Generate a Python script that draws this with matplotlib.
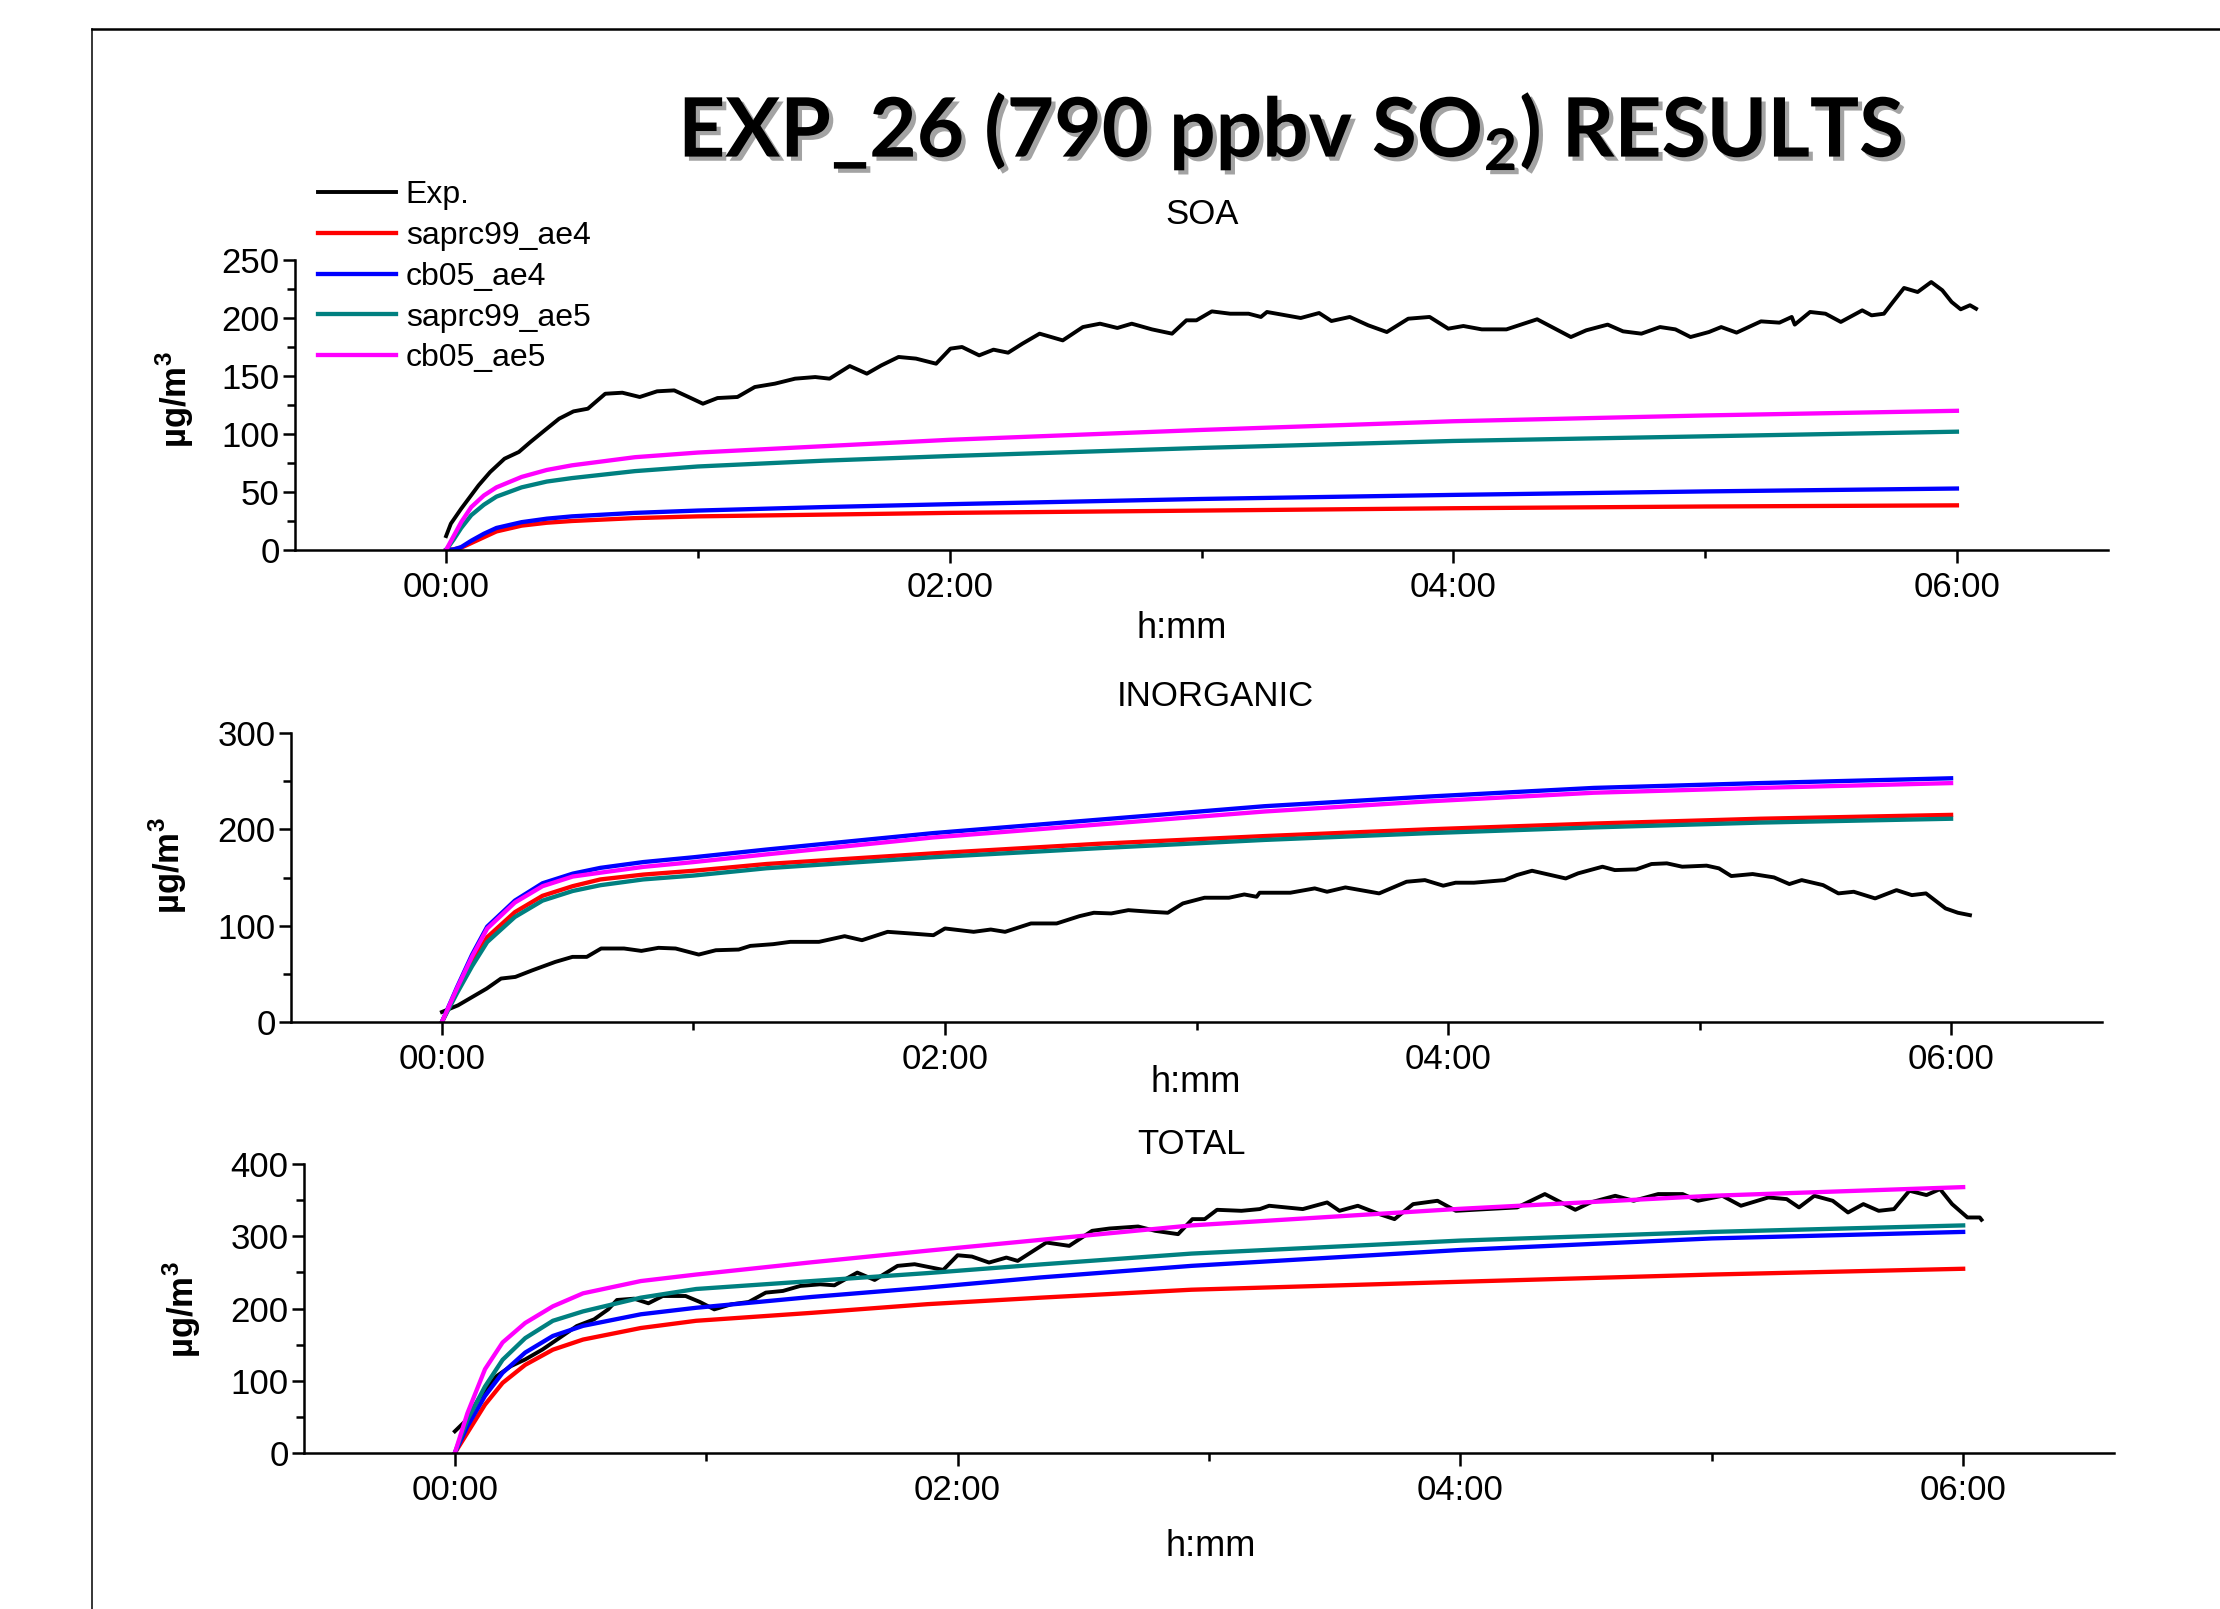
import matplotlib.pyplot as plt
import matplotlib.patheffects as pe
from matplotlib.lines import Line2D
from matplotlib.ticker import MultipleLocator, FixedLocator

plt.rcParams['font.family'] = ['Liberation Sans', 'DejaVu Sans']
plt.rcParams['mathtext.fontset'] = 'custom'
plt.rcParams['mathtext.rm'] = 'Liberation Sans'

# series names / colours
names = ["Exp.", "saprc99_ae4", "cb05_ae4", "saprc99_ae5", "cb05_ae5"]
colors = ["black", "#ff0000", "#0000ff", "#008080", "#ff00ff"]

# ---------------- SOA ----------------
soa_exp_t = [0, 0.019, 0.06, 0.129, 0.175, 0.232, 0.289, 0.335, 0.392, 0.449, 0.506, 0.563, 0.632, 0.70,
             0.769, 0.838, 0.906, 0.963, 1.02, 1.078, 1.157, 1.226, 1.306, 1.386, 1.466, 1.523, 1.603, 1.671,
             1.729, 1.797, 1.866, 1.946, 2.003, 2.049, 2.117, 2.174, 2.232, 2.289, 2.357, 2.449, 2.529, 2.597,
             2.666, 2.723, 2.803, 2.883, 2.94, 2.98, 3.041, 3.114, 3.187, 3.236, 3.26, 3.394, 3.467, 3.516,
             3.589, 3.662, 3.736, 3.821, 3.906, 3.98, 4.04, 4.113, 4.211, 4.333, 4.467, 4.528, 4.613, 4.674,
             4.747, 4.821, 4.882, 4.942, 5.015, 5.064, 5.125, 5.222, 5.295, 5.344, 5.356, 5.417, 5.478, 5.539,
             5.624, 5.661, 5.71, 5.746, 5.79, 5.844, 5.898, 5.942, 5.979, 6.015, 6.052, 6.076]
soa_exp = [12, 22.7, 35.6, 55.7, 67.2, 78.7, 84.5, 93.1, 103.2, 113.2, 119.5, 121.8, 134.7, 135.6, 131.9,
           136.8, 137.6, 131.9, 126.1, 131, 131.9, 140.5, 143.4, 147.7, 149.1, 147.7, 158.6, 152, 159.2, 166.4,
           165, 160.6, 173.6, 175, 167.8, 172.7, 170.1, 177.9, 186.5, 180.7, 192.2, 195.1, 191.4, 195.1, 190.2,
           186.5, 198, 198, 205.7, 203.7, 203.7, 200.9, 205.2, 200, 204.3, 197.4, 200.9, 193.7, 187.9, 199.4,
           200.9, 190.8, 193.1, 190.2, 190.2, 198.9, 183.6, 189.4, 194.3, 188.5, 186.5, 192.2, 190.2, 183.6,
           187.9, 192.2, 187.4, 197.1, 196, 200.9, 194.3, 205.2, 203.7, 196.6, 206.6, 202.3, 203.7, 213.8,
           225.9, 222.4, 231, 223.9, 213.8, 207.5, 211, 208]
soa_mod_t = [0, 0.03, 0.06, 0.1, 0.15, 0.2, 0.3, 0.4, 0.5, 0.75, 1.0, 1.5, 2.0, 3.0, 4.0, 5.0, 6.0]
soa_saprc99_ae4 = [0, 0.5, 2, 6, 11, 16, 21, 23.5, 25, 27.5, 29, 30.5, 32, 34, 36, 37.5, 38.5]
soa_cb05_ae4 = [0, 0.5, 2.5, 8, 14, 19, 24, 27, 29, 32, 34, 37, 39.5, 44, 47.5, 50.5, 53]
soa_saprc99_ae5 = [0, 9, 19, 30, 39, 46, 54, 59, 62, 68, 72, 77, 81, 88, 94, 98, 102]
soa_cb05_ae5 = [0, 12, 24, 37, 47, 54, 63, 69, 73, 80, 84, 89.5, 95, 103.5, 111, 116, 120]

# ---------------- INORGANIC ----------------
inorg_exp_t = [0, 0.064, 0.178, 0.235, 0.292, 0.36, 0.451, 0.519, 0.576, 0.633, 0.724, 0.793, 0.861, 0.929,
               1.021, 1.089, 1.18, 1.226, 1.317, 1.385, 1.499, 1.601, 1.67, 1.772, 1.863, 1.954, 2.0, 2.114,
               2.182, 2.239, 2.342, 2.444, 2.535, 2.592, 2.661, 2.729, 2.82, 2.886, 2.946, 3.032, 3.129, 3.19,
               3.239, 3.251, 3.373, 3.47, 3.519, 3.592, 3.726, 3.835, 3.908, 3.981, 4.03, 4.103, 4.225, 4.273,
               4.334, 4.468, 4.517, 4.614, 4.663, 4.748, 4.809, 4.87, 4.931, 5.028, 5.077, 5.126, 5.211, 5.296,
               5.357, 5.406, 5.491, 5.552, 5.613, 5.698, 5.783, 5.844, 5.9, 5.978, 6.027, 6.075]
inorg_exp = [10.4, 17.3, 34.7, 45.1, 46.8, 53.7, 62.4, 67.6, 67.6, 76.3, 76.3, 73.8, 77, 76.3, 70, 74.5,
             75.2, 79, 80.8, 83.2, 83.2, 89.1, 84.9, 93.6, 91.9, 90.1, 97.1, 93.6, 96, 93.6, 102.3, 102.3,
             109.9, 113.4, 112.7, 116.1, 114.4, 113.4, 123.1, 129, 129, 132.4, 130, 134.2, 134.2, 138.7, 135.2,
             139.7, 133.5, 145.6, 147.3, 141.5, 144.6, 144.6, 147.3, 152.5, 157, 149, 154.3, 161.2, 157.7,
             158.4, 164, 164.7, 161.2, 162.3, 159.5, 151.5, 153.6, 150.1, 143.2, 147.3, 142.1, 133.5, 135.2,
             128.3, 136.9, 131.7, 133.5, 117.9, 113.4, 110.9]
inorg_mod_t = [0, 0.06, 0.12, 0.18, 0.29, 0.4, 0.52, 0.63, 0.8, 1.0, 1.29, 1.95, 2.61, 3.27, 3.92, 4.58,
               5.24, 6.0]
inorg_saprc99_ae4 = [0, 33, 63, 88, 114, 131, 141, 148, 153, 157, 164, 175, 185, 193, 200, 206, 211, 215]
inorg_cb05_ae4 = [0, 36, 70, 99, 126, 144, 154, 160, 166, 171, 179, 196, 210, 224, 234, 243, 248, 253]
inorg_saprc99_ae5 = [0, 30, 58, 83, 109, 126, 136, 142, 148, 152, 159.6, 171, 180.4, 189, 196, 202, 207, 211]
inorg_cb05_ae5 = [0, 35, 68, 97, 124, 141, 151, 155, 161, 166, 174, 191.5, 205, 218.5, 229, 238, 243, 248]

# ---------------- TOTAL ----------------
total_exp_t = [0, 0.041, 0.098, 0.166, 0.223, 0.28, 0.349, 0.417, 0.485, 0.554, 0.61, 0.645, 0.713, 0.77,
               0.827, 0.918, 0.975, 1.032, 1.1, 1.169, 1.237, 1.305, 1.374, 1.453, 1.51, 1.601, 1.67, 1.761,
               1.829, 1.943, 2.0, 2.057, 2.125, 2.194, 2.239, 2.353, 2.444, 2.535, 2.604, 2.718, 2.786, 2.877,
               2.934, 2.983, 3.032, 3.129, 3.202, 3.239, 3.373, 3.47, 3.519, 3.592, 3.678, 3.738, 3.812, 3.909,
               3.982, 4.104, 4.226, 4.336, 4.457, 4.518, 4.616, 4.689, 4.787, 4.884, 4.945, 5.042, 5.116, 5.225,
               5.298, 5.347, 5.408, 5.481, 5.542, 5.603, 5.664, 5.725, 5.786, 5.854, 5.908, 5.956, 6.017, 6.066,
               6.073]
total_exp = [30, 43.9, 76.3, 106.4, 120.2, 129.5, 143.3, 159.5, 175.7, 185, 198.8, 211.8, 213.6, 207.2,
             217.3, 217.3, 209, 198.8, 205.8, 209, 222, 224.3, 231.2, 233.5, 232.1, 249.7, 239.5, 259, 261.3,
             253.4, 273.7, 271.9, 263.6, 270.5, 265.9, 291.3, 286.7, 307.5, 310.7, 313.5, 307.5, 302.9, 323.7,
             323.7, 336.6, 335.2, 337.6, 342.2, 337.6, 346.8, 335.2, 342.2, 330.6, 323.7, 344.5, 349.1, 335.2,
             337.6, 339.9, 358.4, 336.6, 346.8, 356, 349.1, 358.4, 358.4, 349.1, 356, 342.2, 353.7, 351.4,
             339.9, 356, 349.1, 332.9, 344.5, 335.2, 337.6, 363, 357, 365.3, 344.5, 326, 326, 322.8]
total_mod_t = [0, 0.05, 0.12, 0.19, 0.28, 0.39, 0.51, 0.74, 0.96, 1.42, 1.88, 2.33, 2.93, 4.0, 5.0, 6.0]
total_saprc99_ae4 = [0, 28, 67, 97, 122, 143, 157, 173, 183, 194, 206, 215, 226, 237, 247, 255]
total_cb05_ae4 = [0, 37, 79, 111, 139, 162, 176, 192, 201, 216, 229, 243, 259, 281, 297, 306]
total_saprc99_ae5 = [0, 46, 92, 129, 159, 183, 196, 215, 227, 238, 249, 261, 276, 294, 306, 315]
total_cb05_ae5 = [0, 55, 116, 153, 180, 203, 221, 238, 247, 264, 280, 295, 315, 338, 356, 368]

W, H = 2220, 1609
fig = plt.figure(figsize=(W / 100, H / 100), dpi=100)


def fx(px):
    return px / W


def fy(py):
    return 1 - py / H


def make_axes(left, right, top, bottom):
    return fig.add_axes([fx(left), fy(bottom), fx(right - left), (bottom - top) / H])


def style(ax, ymax, ymajor, yminor):
    ax.set_xlim(-0.6, 6.6)
    ax.set_ylim(0, ymax)
    for s in ["top", "right"]:
        ax.spines[s].set_visible(False)
    for s in ["left", "bottom"]:
        ax.spines[s].set_linewidth(1.8)
    ax.set_xticks([0, 2, 4, 6])
    ax.set_xticklabels(["00:00", "02:00", "04:00", "06:00"])
    ax.xaxis.set_minor_locator(FixedLocator([1, 3, 5]))
    ax.yaxis.set_major_locator(MultipleLocator(ymajor))
    ax.yaxis.set_minor_locator(MultipleLocator(yminor))
    ax.tick_params(which="major", length=9, width=1.8, labelsize=25, direction="out")
    ax.tick_params(which="minor", length=5.5, width=1.8, direction="out")
    ax.tick_params(axis="y", pad=2)
    ax.tick_params(axis="x", pad=6)


def draw(ax, exp_t, exp_v, mod_t, mods):
    lines = [ax.plot(exp_t, exp_v, color=colors[0], lw=2.8)[0]]
    for m, c in zip(mods, colors[1:]):
        lines.append(ax.plot(mod_t, m, color=c, lw=3.1)[0])
    return lines


ax1 = make_axes(295, 2108, 260, 550)
lines = draw(ax1, soa_exp_t, soa_exp, soa_mod_t,
             [soa_saprc99_ae4, soa_cb05_ae4, soa_saprc99_ae5, soa_cb05_ae5])
style(ax1, 250, 50, 25)

ax2 = make_axes(291, 2102, 733, 1022)
draw(ax2, inorg_exp_t, inorg_exp, inorg_mod_t,
     [inorg_saprc99_ae4, inorg_cb05_ae4, inorg_saprc99_ae5, inorg_cb05_ae5])
style(ax2, 300, 100, 50)

ax3 = make_axes(304, 2114, 1164, 1453)
draw(ax3, total_exp_t, total_exp, total_mod_t,
     [total_saprc99_ae4, total_cb05_ae4, total_saprc99_ae5, total_cb05_ae5])
style(ax3, 400, 100, 50)

# panel titles, axis labels (figure pixel positions)
for txt, x, y in [("SOA", 1202, 215), ("INORGANIC", 1215, 697), ("TOTAL", 1192, 1144)]:
    fig.text(fx(x), fy(y), txt, fontsize=25, ha="center", va="center")
for x, y in [(1182, 629), (1196, 1083), (1211, 1546)]:
    fig.text(fx(x), fy(y), "h:mm", fontsize=26, ha="center", va="center")
for x, y in [(175, 400), (168, 866), (182, 1310)]:
    fig.text(fx(x), fy(y), r"µg/m$^\mathregular{3}$", fontsize=25, fontweight="bold",
             rotation=90, ha="center", va="center")

ax1.legend(lines, names, loc="upper left", bbox_to_anchor=(fx(318), fy(180)),
           bbox_transform=fig.transFigure, frameon=False, fontsize=23, borderpad=0,
           borderaxespad=0, handlelength=2.44, handletextpad=0.31, labelspacing=0.34)

# main title with drop shadow
fig.text(fx(1291), fy(157), r"EXP_26 (790 ppbv SO$_\mathregular{2}$) RESULTS",
         fontsize=59, fontweight="bold", family=["Lato", "DejaVu Sans"],
         ha="center", va="baseline",
         path_effects=[pe.withSimplePatchShadow(offset=(3, -3), shadow_rgbFace="0.4", alpha=0.6)])

# slide frame
fig.add_artist(Line2D([fx(92), 1], [fy(29), fy(29)], transform=fig.transFigure, color="black", lw=1.8))
fig.add_artist(Line2D([fx(92), fx(92)], [0, fy(29)], transform=fig.transFigure, color="black", lw=1.1))

fig.savefig("out.png", dpi=100)
